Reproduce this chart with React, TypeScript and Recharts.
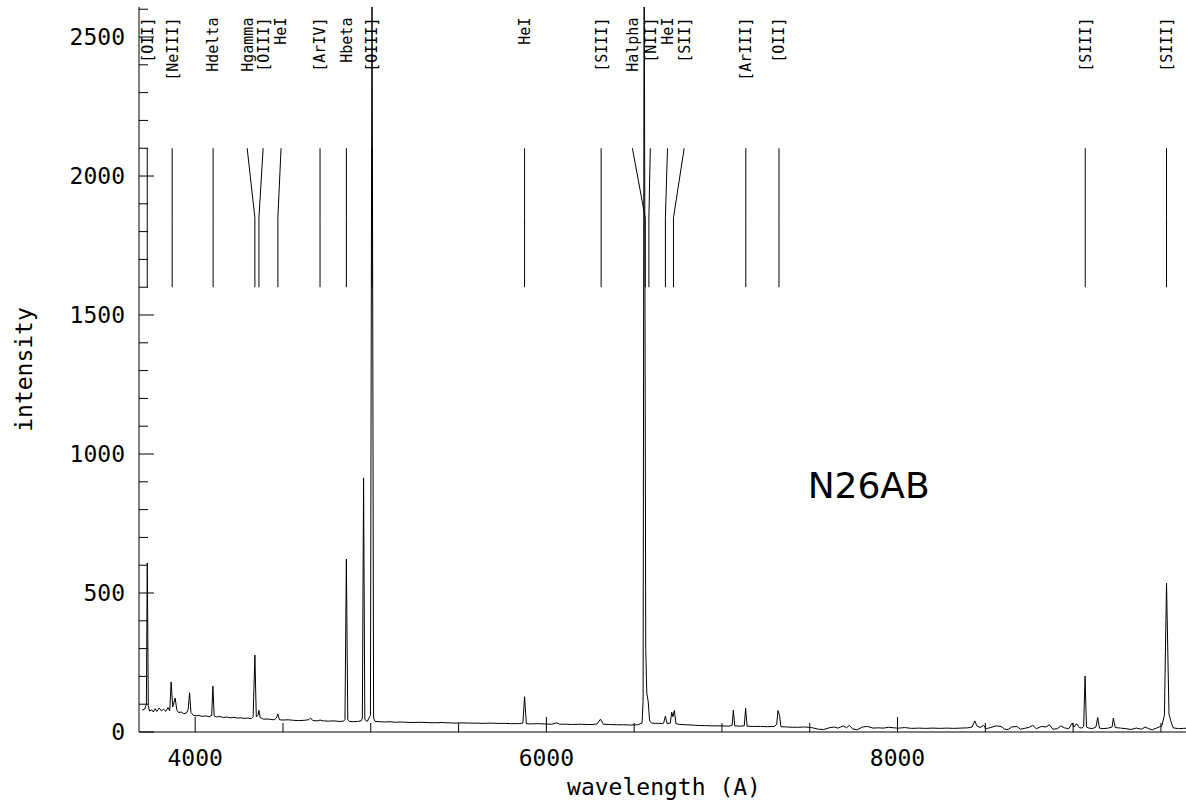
import React from 'react';
import { LineChart, Line, XAxis, YAxis, ReferenceLine, ReferenceDot } from 'recharts';

// spectrum (wavelength in A, intensity)
const wave = [
  3698, 3712, 3722, 3727, 3733, 3740, 3752, 3762, 3772, 3782, 3795, 3808, 3820, 3833, 3845, 3855,
  3863, 3872, 3886, 3895, 3905, 3920, 3935, 3950, 3960, 3968, 3976, 3990, 4005, 4020, 4040, 4060,
  4080, 4094, 4101, 4108, 4120, 4140, 4160, 4180, 4200, 4220, 4240, 4260, 4280, 4300, 4320, 4330,
  4340, 4348, 4358, 4363, 4370, 4390, 4410, 4430, 4450, 4462, 4471, 4480, 4500, 4530, 4560, 4590,
  4620, 4645, 4658, 4670, 4700, 4711, 4730, 4760, 4790, 4820, 4845, 4853, 4861, 4869, 4880, 4900,
  4925, 4945, 4952, 4959, 4966, 4980, 4998, 5007, 5016, 5025, 5050, 5080, 5110, 5140, 5170, 5200,
  5240, 5280, 5320, 5360, 5400, 5440, 5480, 5520, 5560, 5600, 5640, 5680, 5720, 5760, 5800, 5840,
  5866, 5876, 5886, 5910, 5950, 5990, 6030, 6060, 6075, 6110, 6150, 6190, 6230, 6270, 6290, 6308,
  6325, 6360, 6400, 6440, 6480, 6520, 6545, 6551, 6557, 6566, 6572, 6580, 6588, 6600, 6620, 6640,
  6660, 6668, 6678, 6688, 6706, 6714, 6721, 6729, 6738, 6760, 6800, 6850, 6900, 6950, 7000, 7040,
  7058, 7065, 7073, 7100, 7127, 7135, 7143, 7180, 7220, 7260, 7300, 7312, 7319, 7328, 7336, 7370,
  7400, 7430, 7470, 7510, 7550, 7580, 7610, 7640, 7660, 7690, 7710, 7725, 7745, 7770, 7800, 7830,
  7860, 7890, 7920, 7950, 7980, 8010, 8040, 8080, 8120, 8160, 8200, 8240, 8280, 8320, 8360, 8400,
  8425, 8440, 8452, 8470, 8490, 8505, 8530, 8560, 8590, 8610, 8630, 8650, 8680, 8700, 8730, 8750,
  8770, 8790, 8820, 8845, 8865, 8885, 8910, 8930, 8950, 8975, 8995, 9005, 9020, 9035, 9050, 9060,
  9068, 9076, 9090, 9110, 9130, 9140, 9150, 9170, 9200, 9222, 9229, 9240, 9270, 9300, 9330, 9360,
  9390, 9410, 9430, 9450, 9475, 9490, 9505, 9520, 9532, 9546, 9556, 9570, 9600, 9630, 9660,
];
const flux = [
  79, 82, 100, 608, 95, 75, 80, 72, 84, 74, 86, 76, 82, 74, 88, 76,
  180, 90, 122, 80, 70, 72, 66, 68, 80, 141, 70, 60, 58, 60, 56, 58,
  55, 60, 165, 58, 54, 56, 52, 54, 51, 53, 50, 51, 49, 50, 48, 55,
  277, 55, 60, 78, 52, 46, 47, 45, 44, 50, 65, 44, 43, 44, 42, 41,
  42, 44, 50, 41, 40, 43, 40, 39, 40, 38, 39, 45, 622, 44, 38, 37,
  38, 40, 50, 914, 45, 38, 60, 2760, 50, 38, 37, 36, 37, 35, 36, 35,
  34, 35, 34, 33, 34, 33, 32, 33, 32, 32, 31, 32, 31, 31, 30, 30,
  32, 127, 30, 29, 30, 29, 28, 33, 28, 28, 27, 28, 27, 27, 30, 46,
  28, 27, 26, 26, 25, 26, 32, 110, 2900, 300, 140, 110, 40, 32, 31, 31,
  30, 32, 57, 30, 32, 71, 55, 78, 30, 27, 26, 24, 23, 22, 22, 21,
  24, 79, 22, 21, 22, 86, 21, 20, 20, 19, 20, 28, 77, 60, 19, 18,
  17, 17, 18, 16, 10, 9, 15, 18, 14, 22, 15, 24, 11, 8, 18, 20,
  14, 15, 14, 17, 15, 14, 16, 13, 14, 13, 14, 13, 14, 13, 14, 15,
  18, 40, 22, 16, 24, 12, 16, 22, 20, 10, 9, 18, 20, 10, 14, 17,
  24, 12, 20, 18, 26, 10, 12, 22, 15, 12, 32, 18, 30, 16, 14, 20,
  201, 18, 14, 12, 18, 52, 14, 12, 14, 18, 50, 16, 14, 12, 9, 14,
  10, 18, 12, 8, 14, 18, 22, 60, 535, 65, 40, 15, 12, 13, 14,
];

// line identifications: name, label position, rest wavelength
const lineNames = [
  '[OII]', '[NeIII]', 'Hdelta', 'Hgamma', '[OIII]', 'HeI', '[ArIV]', 'Hbeta', '[OIII]', 'HeI',
  '[SIII]', 'Halpha', '[NII]', 'HeI', '[SII]', '[ArIII]', '[OII]', '[SIII]', '[SIII]',
];
const labelWave = [
  3727, 3869, 4102, 4296, 4387, 4489, 4711, 4861, 5007, 5876,
  6312, 6490, 6592, 6690, 6785, 7136, 7325, 9069, 9532,
];
const restWave = [
  3727, 3869, 4102, 4340, 4363, 4471, 4711, 4861, 5007, 5876,
  6312, 6563, 6584, 6678, 6724, 7136, 7325, 9069, 9532,
];
const MARK_TOP = 2100;
const MARK_BEND = 1850;
const MARK_BOTTOM = 1600;
const LABEL_Y = 2570;

const xTicks = [4000, 4500, 5000, 5500, 6000, 6500, 7000, 7500, 8000, 8500, 9000, 9500];
const yTicks = Array.from({ length: 27 }, (_, i) => i * 100);

const spectrum = wave.map((w, i) => ({ w, f: flux[i] }));

const FONT = 'DejaVu Sans Mono';
const MAJOR = 15;
const MINOR = 9;

function BottomTick({ x, y, payload }: any) {
  const major = payload.value % 2000 === 0;
  return (
    <g>
      <line x1={x} y1={y} x2={x} y2={y - (major ? MAJOR : MINOR)} stroke="#000" />
      {major && (
        <text x={x} y={y + 18} dy="0.71em" textAnchor="middle" fontFamily={FONT} fontSize={23} fill="#000">
          {payload.value}
        </text>
      )}
    </g>
  );
}

function TopTick({ x, y, payload }: any) {
  const major = payload.value % 2000 === 0;
  return <line x1={x} y1={y} x2={x} y2={y + (major ? MAJOR : MINOR)} stroke="#000" />;
}

function LeftTick({ x, y, payload }: any) {
  const major = payload.value % 500 === 0;
  return (
    <g>
      <line x1={x} y1={y} x2={x + (major ? MAJOR : MINOR)} y2={y} stroke="#000" />
      {major && (
        <text x={x - 14} y={y} dy="0.36em" textAnchor="end" fontFamily={FONT} fontSize={23} fill="#000">
          {payload.value}
        </text>
      )}
    </g>
  );
}

function RightTick({ x, y, payload }: any) {
  const major = payload.value % 500 === 0;
  return <line x1={x} y1={y} x2={x - (major ? MAJOR : MINOR)} y2={y} stroke="#000" />;
}

export default function App() {
  return (
    <div
      style={{
        position: 'absolute',
        left: 0,
        top: 0,
        width: 1186,
        height: 802,
        overflow: 'hidden',
        background: '#fff',
      }}
    >
      <LineChart width={1200} height={802} data={spectrum} margin={{ top: 7, right: 11, bottom: 0, left: 0 }}>
        <XAxis
          dataKey="w"
          type="number"
          domain={[3680, 9660]}
          allowDataOverflow
          ticks={xTicks}
          interval={0}
          height={70}
          tickSize={0}
          tickMargin={0}
          tickLine={false}
          axisLine={{ stroke: '#000' }}
          tick={<BottomTick />}
          label={{
            value: 'wavelength (A)',
            position: 'insideBottom',
            offset: 7,
            fontFamily: FONT,
            fontSize: 23,
            fill: '#000',
          }}
        />
        <XAxis
          xAxisId="top"
          orientation="top"
          type="number"
          domain={[3680, 9660]}
          allowDataOverflow
          ticks={xTicks}
          interval={0}
          height={0}
          tickSize={0}
          tickMargin={0}
          tickLine={false}
          axisLine={{ stroke: '#000' }}
          tick={<TopTick />}
        />
        <YAxis
          type="number"
          domain={[0, 2608]}
          allowDataOverflow
          ticks={yTicks}
          interval={0}
          width={139}
          tickSize={0}
          tickMargin={0}
          tickLine={false}
          axisLine={{ stroke: '#000' }}
          tick={<LeftTick />}
          label={{
            value: 'intensity',
            angle: -90,
            position: 'center',
            dx: -46,
            fontFamily: FONT,
            fontSize: 23,
            fill: '#000',
          }}
        />
        <YAxis
          yAxisId="right"
          orientation="right"
          type="number"
          domain={[0, 2608]}
          allowDataOverflow
          ticks={yTicks}
          interval={0}
          width={0}
          tickSize={0}
          tickMargin={0}
          tickLine={false}
          axisLine={{ stroke: '#000' }}
          tick={<RightTick />}
        />
        {lineNames.map((name, i) => (
          <ReferenceLine
            key={`a${i}`}
            segment={[
              { x: labelWave[i], y: MARK_TOP },
              { x: restWave[i], y: MARK_BEND },
            ]}
            stroke="#000"
            strokeWidth={1}
          />
        ))}
        {lineNames.map((name, i) => (
          <ReferenceLine
            key={`b${i}`}
            segment={[
              { x: restWave[i], y: MARK_BEND },
              { x: restWave[i], y: MARK_BOTTOM },
            ]}
            stroke="#000"
            strokeWidth={1}
          />
        ))}
        {lineNames.map((name, i) => (
          <ReferenceDot
            key={`l${i}`}
            x={labelWave[i]}
            y={LABEL_Y}
            r={0}
            shape={(p: any) => (
              <text
                x={p.cx}
                y={p.cy}
                dy="0.36em"
                transform={`rotate(-90, ${p.cx}, ${p.cy})`}
                textAnchor="end"
                fontFamily={FONT}
                fontSize={15}
                fill="#000"
              >
                {name}
              </text>
            )}
          />
        ))}
        <ReferenceDot
          x={7488}
          y={842}
          r={0}
          shape={(p: any) => (
            <text x={p.cx} y={p.cy} fontFamily="DejaVu Sans" fontSize={36} fill="#000">
              N26AB
            </text>
          )}
        />
        <Line
          type="linear"
          dataKey="f"
          stroke="#000"
          strokeWidth={1}
          dot={false}
          isAnimationActive={false}
        />
      </LineChart>
    </div>
  );
}
